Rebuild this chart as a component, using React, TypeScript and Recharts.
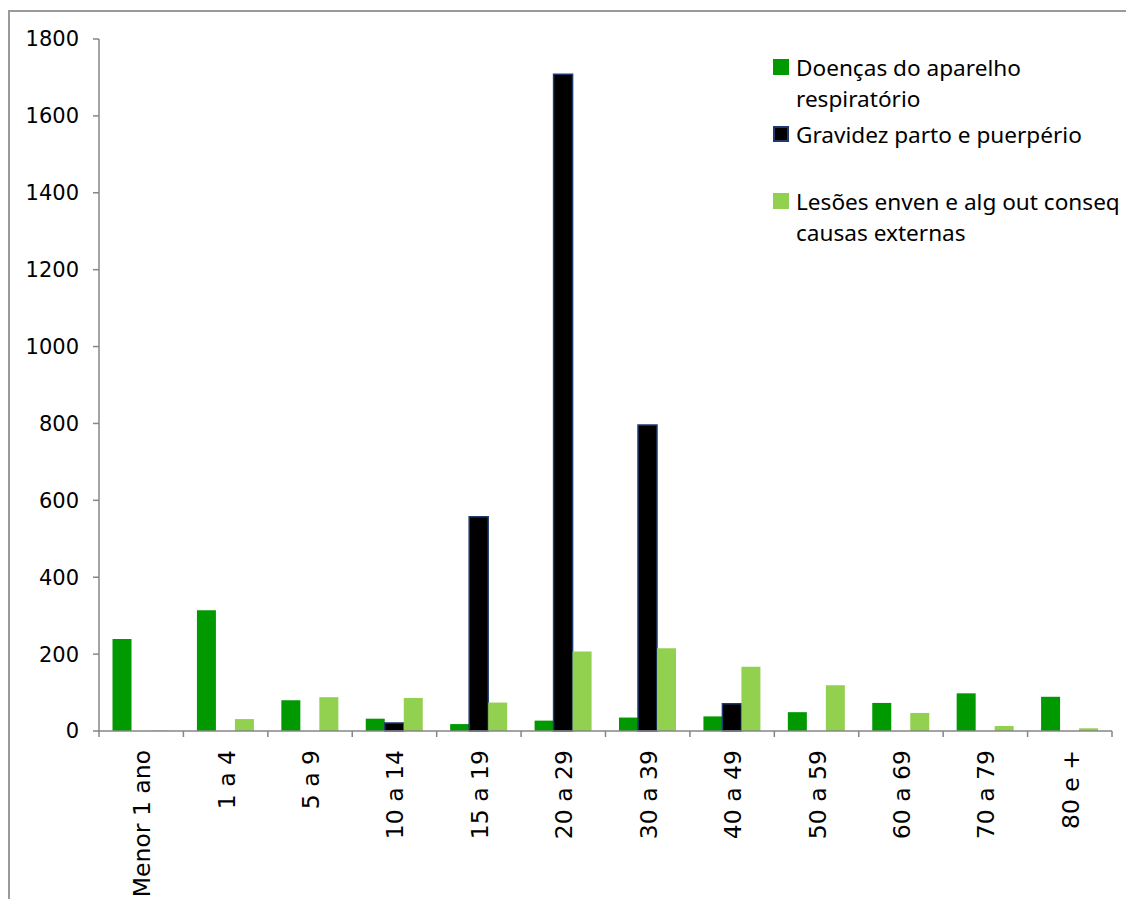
import React from 'react';
import { BarChart, Bar, XAxis, YAxis } from 'recharts';

// Internações por faixa etária e grupo de causas
const ageGroups = [
  'Menor 1 ano', '1 a 4', '5 a 9', '10 a 14', '15 a 19', '20 a 29',
  '30 a 39', '40 a 49', '50 a 59', '60 a 69', '70 a 79', '80 e +',
];
const respiratorio = [239, 314, 80, 32, 18, 27, 35, 38, 49, 73, 98, 89];
const gravidez = [0, 0, 0, 21, 557, 1708, 796, 71, 0, 0, 0, 0];
const lesoes = [1, 31, 88, 86, 74, 207, 215, 167, 119, 47, 13, 7];
const yTicks = [0, 200, 400, 600, 800, 1000, 1200, 1400, 1600, 1800];

const seriesNames = {
  respiratorio: 'Doenças do aparelho respiratório',
  gravidez: 'Gravidez parto e puerpério',
  lesoes: 'Lesões enven e alg out conseq causas externas',
};
const legendLines = [
  ['Doenças do aparelho', 'respiratório'],
  ['Gravidez parto e puerpério'],
  ['Lesões enven e alg out conseq', 'causas externas'],
];

const COLORS = {
  respiratorio: '#009900',
  gravidez: '#000000',
  gravidezEdge: '#1F3A6E',
  lesoes: '#92D050',
  axis: '#868686',
};

const data = ageGroups.map((g, i) => ({
  faixa: g,
  respiratorio: respiratorio[i],
  gravidez: gravidez[i],
  lesoes: lesoes[i],
}));

const TICK_LEN = 6;
const LABEL_GAP = 19;

const AgeTick = (props: any) => {
  const { x, y, payload, index, visibleTicksCount } = props;
  const half = payload && typeof payload.offset === 'number' ? payload.offset : 42.2;
  const last = index === visibleTicksCount - 1;
  return (
    <g>
      <line x1={x - half} x2={x - half} y1={y} y2={y + TICK_LEN} stroke={COLORS.axis} strokeWidth={1.5} />
      {last && (
        <line x1={x + half} x2={x + half} y1={y} y2={y + TICK_LEN} stroke={COLORS.axis} strokeWidth={1.5} />
      )}
      <text
        x={x + 1}
        y={y + LABEL_GAP}
        transform={`rotate(-90, ${x + 1}, ${y + LABEL_GAP})`}
        textAnchor="end"
        dominantBaseline="central"
        fontFamily="DejaVu Sans"
        fontSize={23.5}
        fill="#000"
      >
        {payload.value}
      </text>
    </g>
  );
};

const swatch = [
  { fill: COLORS.respiratorio, stroke: 'none' },
  { fill: COLORS.gravidez, stroke: COLORS.gravidezEdge },
  { fill: COLORS.lesoes, stroke: 'none' },
];

const LegendBox = () => (
  <div
    style={{
      position: 'absolute',
      left: 765,
      top: 44,
      fontFamily: 'Noto Sans',
      fontSize: 22.6,
      color: '#000',
      lineHeight: '31px',
    }}
  >
    {legendLines.map((lines, i) => (
      <div key={i} style={{ position: 'relative', height: 67, paddingLeft: 23 }}>
        <div
          style={{
            position: 'absolute',
            left: 0,
            top: 7,
            width: 16,
            height: 16,
            boxSizing: 'border-box',
            background: swatch[i].fill,
            border: swatch[i].stroke === 'none' ? 'none' : `2px solid ${swatch[i].stroke}`,
          }}
        />
        {lines.map((l, j) => (
          <div key={j} style={{ whiteSpace: 'nowrap' }}>{l}</div>
        ))}
      </div>
    ))}
  </div>
);

export default function App() {
  return (
    <div style={{ position: 'relative', width: 1126, height: 891 }}>
      <div
        style={{
          position: 'absolute',
          left: 0,
          top: 2,
          width: 1126,
          height: 897,
          boxSizing: 'border-box',
          borderLeft: '2px solid #9a9a9a',
          borderTop: '2px solid #9a9a9a',
        }}
      />
      <div style={{ position: 'absolute', left: 0, top: 2 }}>
        <BarChart
          width={1126}
          height={897}
          data={data}
          margin={{ top: 29, right: 22, left: 0, bottom: 6 }}
          barCategoryGap="16%"
          barGap={0}
        >
          <XAxis
            dataKey="faixa"
            height={170}
            interval={0}
            tickLine={false}
            tickSize={0}
            tickMargin={0}
            axisLine={{ stroke: COLORS.axis, strokeWidth: 1.5 }}
            tick={<AgeTick />}
          />
          <YAxis
            width={91}
            domain={[0, 1800]}
            ticks={yTicks}
            interval={0}
            tickSize={6}
            tickMargin={14}
            axisLine={{ stroke: COLORS.axis, strokeWidth: 1.5 }}
            tickLine={{ stroke: COLORS.axis, strokeWidth: 1.5 }}
            tick={{ fill: '#000', fontSize: 21, fontFamily: 'DejaVu Sans' }}
          />
          <Bar dataKey="respiratorio" name={seriesNames.respiratorio} fill={COLORS.respiratorio} isAnimationActive={false} />
          <Bar
            dataKey="gravidez"
            name={seriesNames.gravidez}
            fill={COLORS.gravidez}
            stroke={COLORS.gravidezEdge}
            strokeWidth={1.5}
            isAnimationActive={false}
          />
          <Bar dataKey="lesoes" name={seriesNames.lesoes} fill={COLORS.lesoes} isAnimationActive={false} />
        </BarChart>
      </div>
      <LegendBox />
    </div>
  );
}
